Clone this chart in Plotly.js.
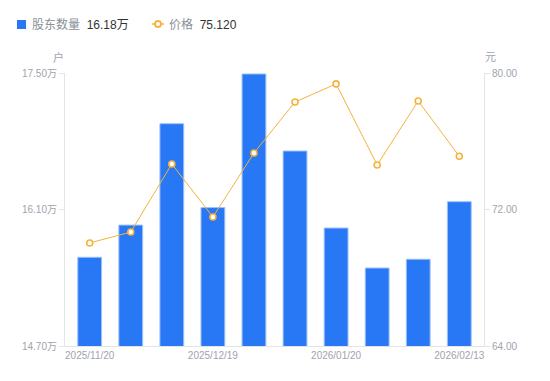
<!DOCTYPE html>
<html><head><meta charset="utf-8">
<script src="https://cdn.plot.ly/plotly-3.0.1.min.js"></script>
<style>html,body{margin:0;padding:0;background:#fff}#c{width:550px;height:381px}</style>
</head><body><div id="c"></div>
<script>
const dates = ["2025/11/20","2025/11/30","2025/12/10","2025/12/19","2025/12/31","2026/01/09","2026/01/20","2026/01/30","2026/02/10","2026/02/13"];
const holders = [15.61,15.94,16.98,16.12,17.49,16.70,15.91,15.50,15.59,16.18];
const prices = [70.04,70.68,74.67,71.56,75.31,78.30,79.36,74.61,78.36,75.12];
const shownTicks = ["2025/11/20","2025/12/19","2026/01/20","2026/02/13"];
const leftTicks = [14.70,16.10,17.50];
const rightTicks = [64,72,80];
const legendNames = ["股东数量","价格"];
const legendValues = ["16.18万","75.120"];

const FONT = "Liberation Sans, Arial, Noto Sans CJK SC, sans-serif";
const blue = "#2878f5", orange = "#f7b23b", grey = "#8a8f99", tickGrey = "#a0a3ad";

const W = 550, H = 381, L = 65, R = 66, T = 73, B = 35;
const pw = W - L - R, ph = H - T - B;
const px = x => (x - L) / pw;            // pixel -> paper x
const py = y => (H - B - y) / ph;        // pixel -> paper y

const traces = [
  {type:"bar", x:dates, y:holders, yaxis:"y", width:0.58, showlegend:false,
   marker:{color:blue, line:{color:"#9cc0fb", width:1}}, hoverinfo:"skip"},
  {type:"scatter", mode:"lines+markers", x:dates, y:prices, yaxis:"y2", showlegend:false,
   line:{color:orange, width:1},
   marker:{symbol:"circle", size:6, color:"#fff", line:{color:orange, width:1.6}}, hoverinfo:"skip"}
];

const axisCommon = {showgrid:false, showline:true, linecolor:"#e3e4e8", linewidth:1, zeroline:false,
                    tickfont:{size:10, color:tickGrey}};

const layout = {
  width:W, height:H,
  margin:{l:L, r:R, t:T, b:B},
  paper_bgcolor:"#fff", plot_bgcolor:"#fff",
  font:{family:FONT, size:10, color:tickGrey},
  showlegend:false,
  xaxis:Object.assign({type:"category", tickmode:"array", tickvals:shownTicks, ticktext:shownTicks, ticks:""}, axisCommon),
  yaxis:Object.assign({range:[14.70,17.50], tickmode:"array", tickvals:leftTicks, ticktext:leftTicks.map(v=>v.toFixed(2)+"万"),
         ticks:"outside", ticklen:5, tickcolor:"#e3e4e8"}, axisCommon),
  yaxis2:Object.assign({range:[64,80], overlaying:"y", side:"right", tickmode:"array", tickvals:rightTicks, ticktext:rightTicks.map(v=>v.toFixed(2)),
          ticks:"outside", ticklen:5, tickcolor:"#e3e4e8"}, axisCommon),
  shapes:[
    {type:"rect", xref:"paper", yref:"paper", x0:px(17), x1:px(26), y0:py(29), y1:py(20),
     fillcolor:blue, line:{width:0}},
    {type:"line", xref:"paper", yref:"paper", x0:px(152), x1:px(164), y0:py(24), y1:py(24),
     line:{color:orange, width:1.5}},
    {type:"circle", xref:"paper", yref:"paper", x0:px(155), x1:px(161), y0:py(27), y1:py(21),
     fillcolor:"#fff", line:{color:orange, width:1.8}}
  ],
  annotations:[
    {text:'<span style="color:'+grey+'">'+legendNames[0]+'</span>  '+legendValues[0], xref:"paper", yref:"paper",
     x:px(30), y:py(24.5), xanchor:"left", yanchor:"middle", showarrow:false, font:{size:12, color:"#333"}},
    {text:'<span style="color:'+grey+'">'+legendNames[1]+'</span>  '+legendValues[1], xref:"paper", yref:"paper",
     x:px(167), y:py(24.5), xanchor:"left", yanchor:"middle", showarrow:false, font:{size:12, color:"#333"}},
    {text:"户", xref:"paper", yref:"paper", x:px(58), y:py(57), xanchor:"center", yanchor:"middle", showarrow:false, font:{size:11, color:tickGrey}},
    {text:"元", xref:"paper", yref:"paper", x:px(490), y:py(57), xanchor:"center", yanchor:"middle", showarrow:false, font:{size:11, color:tickGrey}}
  ]
};
Plotly.newPlot("c", traces, layout, {displayModeBar:false, staticPlot:true});
</script></body></html>
